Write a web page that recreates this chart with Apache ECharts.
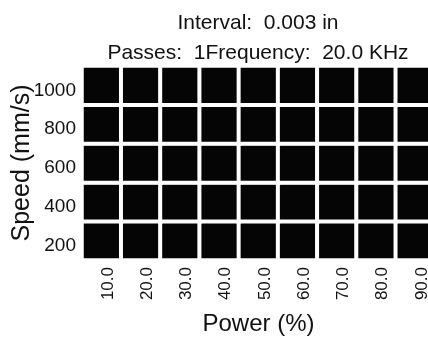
<!DOCTYPE html>
<html>
<head>
<meta charset="utf-8">
<script src="https://cdn.jsdelivr.net/npm/echarts@6/dist/echarts.min.js"></script>
<style>
html,body{margin:0;padding:0;background:#fff;}
#chart{width:428px;height:340px;}
</style>
</head>
<body>
<div id="chart"></div>
<script>
// Data
const titleLines = ['Interval:  0.003 in', 'Passes:  1Frequency:  20.0 KHz'];
const powerLabels = ['10.0', '20.0', '30.0', '40.0', '50.0', '60.0', '70.0', '80.0', '90.0'];
const speedLabels = ['200', '400', '600', '800', '1000'];
// one row per speed (200 .. 1000), one value per power column
const row200  = [1, 1, 1, 1, 1, 1, 1, 1, 1];
const row400  = [1, 1, 1, 1, 1, 1, 1, 1, 1];
const row600  = [1, 1, 1, 1, 1, 1, 1, 1, 1];
const row800  = [1, 1, 1, 1, 1, 1, 1, 1, 1];
const row1000 = [1, 1, 1, 1, 1, 1, 1, 1, 1];
const xName = 'Power (%)';
const yName = 'Speed (mm/s)';

const rows = [row200, row400, row600, row800, row1000];
const cells = [];
rows.forEach((r, yi) => r.forEach((v, xi) => cells.push([xi, yi, v])));

const FONT = '"Liberation Sans", Arial, sans-serif';
const chart = echarts.init(document.getElementById('chart'), null, {renderer: 'canvas'});
chart.setOption({
  animation: false,
  backgroundColor: '#fff',
  title: {
    text: titleLines.join('\n'),
    left: 258,
    textAlign: 'center',
    top: 8,
    padding: 0,
    textStyle: {fontFamily: FONT, fontSize: 21, fontWeight: 'normal', color: '#111', lineHeight: 30}
  },
  grid: {left: 82, top: 66, width: 353, height: 194, outerBoundsMode: 'none', containLabel: false},
  xAxis: {
    type: 'category',
    data: powerLabels,
    name: xName,
    nameLocation: 'middle',
    nameGap: 52,
    nameMoveOverlap: false,
    nameTextStyle: {fontFamily: FONT, fontSize: 24, color: '#111'},
    axisLine: {show: false},
    axisTick: {show: false},
    splitLine: {show: false},
    axisLabel: {rotate: 90, margin: 7, fontFamily: FONT, fontSize: 17, color: '#111', verticalAlign: 'top', lineHeight: 13}
  },
  yAxis: {
    type: 'category',
    data: speedLabels,
    name: yName,
    nameLocation: 'middle',
    nameGap: 47,
    nameMoveOverlap: false,
    nameTextStyle: {fontFamily: FONT, fontSize: 25, color: '#111'},
    axisLine: {show: false},
    axisTick: {show: false},
    splitLine: {show: false},
    axisLabel: {margin: 6, fontFamily: FONT, fontSize: 19, color: '#111', verticalAlign: 'top', lineHeight: 10}
  },
  series: [{
    type: 'heatmap',
    data: cells,
    itemStyle: {color: '#050505', borderColor: '#ffffff', borderWidth: 4},
    emphasis: {disabled: true}
  }]
});
</script>
</body>
</html>
